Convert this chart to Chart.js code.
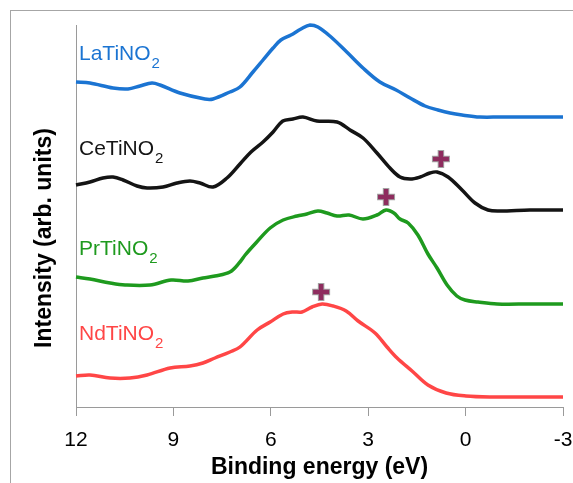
<!DOCTYPE html>
<html><head><meta charset="utf-8">
<script src="https://cdn.jsdelivr.net/npm/chart.js@4.4.0/dist/chart.umd.min.js"></script>
<style>html,body{margin:0;padding:0;background:#fff}canvas{display:block}</style>
</head><body>
<canvas id="c" width="573" height="483"></canvas>
<script>
// Binding energy (eV) and intensity (arb. units, including vertical offset)
const laE = [12.00, 11.57, 10.86, 10.40, 10.03, 9.66, 9.41, 8.80, 8.03, 7.78, 7.26, 6.95, 6.55, 6.24, 5.93, 5.69, 5.38, 5.07, 4.79, 4.55, 4.18, 3.66, 3.16, 2.64, 2.14, 1.71, 1.25, 0.85, 0.48, 0.11, -0.44, -1.06, -1.98, -3.00];
const laI = [325, 324, 319, 318, 321, 324, 322, 314, 308, 308, 315, 320, 335, 347, 359, 367, 372, 378, 382, 380, 371, 355, 339, 325, 317, 309, 301, 297, 294, 292, 290, 290, 290, 290];

const ceE = [12.00, 11.57, 11.17, 10.86, 10.55, 10.12, 9.81, 9.32, 8.89, 8.49, 8.18, 7.78, 7.35, 6.95, 6.61, 6.24, 5.93, 5.63, 5.32, 5.01, 4.58, 3.96, 3.56, 3.16, 2.73, 2.33, 2.02, 1.71, 1.40, 1.10, 0.88, 0.54, 0.11, -0.29, -0.69, -1.06, -1.98, -3.00];
const ceI = [222, 225, 229, 230, 227, 221, 219, 220, 224, 226, 224, 220, 229, 243, 255, 265, 275, 286, 288, 290, 286, 285, 277, 269, 254, 239, 230, 228, 230, 234, 235, 230, 217, 204, 197, 196, 197, 197];

const prE = [12.00, 11.57, 10.95, 10.49, 9.72, 9.07, 8.55, 8.09, 7.72, 7.26, 6.95, 6.79, 6.46, 6.02, 5.62, 5.19, 4.89, 4.55, 4.27, 3.96, 3.59, 3.16, 2.73, 2.45, 2.21, 2.02, 1.77, 1.47, 1.16, 0.88, 0.57, 0.27, 0.02, -0.38, -0.97, -1.98, -3.00];
const prI = [130, 128, 124, 122, 122, 127, 126, 129, 131, 135, 145, 152, 164, 179, 187, 191, 193, 196, 194, 191, 192, 188, 192, 197, 194, 188, 184, 172, 153, 139, 122, 111, 107, 105, 103, 103, 103];

const ndE = [12.00, 11.57, 10.95, 10.34, 9.81, 9.10, 8.49, 8.09, 7.72, 7.26, 6.95, 6.42, 6.02, 5.62, 5.32, 5.04, 4.73, 4.42, 4.08, 3.68, 3.31, 2.79, 2.42, 2.11, 1.65, 1.16, 0.60, -0.01, -0.75, -1.98, -3.00];
const ndI = [31, 32, 29, 29, 32, 39, 41, 44, 49, 55, 60, 77, 85, 93, 95, 95, 100, 103, 101, 96, 86, 74, 60, 49, 36, 22, 14, 11, 10, 10, 10];

// "+" markers above the marked features
const markE = [0.76, 2.45, 4.45];
const markI = [248, 210, 115];

// Series names (formula without the subscript digit), label anchor heights (intensity units)
const names = ['LaTiNO', 'CeTiNO', 'PrTiNO', 'NdTiNO'];
const nameSub = '2';
const nameLevels = [347, 252, 152, 67];
const xTicks = [12, 9, 6, 3, 0, -3];

const colors = ['#1b74d2', '#141414', '#1e9a1e', '#ff4646'];
const toXY = (xs, ys) => xs.map((x, i) => ({x: x, y: ys[i]}));

const FONT = "'Liberation Sans', Arial, sans-serif";

const labelPlugin = {
  id: 'labels',
  beforeDraw(chart) {
    const ctx = chart.ctx;
    ctx.save();
    ctx.strokeStyle = '#a6a6a6';
    ctx.lineWidth = 1;
    ctx.strokeRect(10.5, 10.5, 700, 700);
    ctx.restore();
  },
  afterDraw(chart) {
    const ctx = chart.ctx;
    const ys = chart.scales.y;
    const left = chart.chartArea.left;
    ctx.save();
    names.forEach((n, i) => {
      const base = ys.getPixelForValue(nameLevels[i]);
      ctx.fillStyle = colors[i];
      ctx.textAlign = 'left';
      ctx.textBaseline = 'alphabetic';
      ctx.font = '21px ' + FONT;
      ctx.fillText(n, left + 3, base);
      const w = ctx.measureText(n).width;
      ctx.font = '15px ' + FONT;
      ctx.fillText(nameSub, left + 3 + w + 1, base + 8);
    });
    // y-axis title
    ctx.translate(45, 238);
    ctx.rotate(-Math.PI / 2);
    ctx.fillStyle = '#000';
    ctx.font = 'bold 23px ' + FONT;
    ctx.textAlign = 'center';
    ctx.textBaseline = 'middle';
    ctx.fillText('Intensity (arb. units)', 0, 0);
    ctx.restore();
  }
};

const series = [[laE, laI], [ceE, ceI], [prE, prI], [ndE, ndI]];
const datasets = series.map((s, i) => ({
  data: toXY(s[0], s[1]),
  borderColor: colors[i],
  borderWidth: 3.5,
  pointRadius: 0,
  tension: 0.35,
  fill: false,
  clip: false,
  order: 3
}));
datasets.push({
  data: toXY(markE, markI),
  showLine: false,
  pointStyle: 'cross',
  pointRadius: 9,
  pointBorderWidth: 6.5,
  pointBorderColor: '#a3a3a3',
  pointHoverRadius: 9,
  clip: false,
  order: 2
});
datasets.push({
  data: toXY(markE, markI),
  showLine: false,
  pointStyle: 'cross',
  pointRadius: 8,
  pointBorderWidth: 4.5,
  pointBorderColor: '#8e2c5e',
  pointHoverRadius: 8,
  clip: false,
  order: 1
});

new Chart(document.getElementById('c'), {
  type: 'line',
  data: { datasets },
  options: {
    responsive: false,
    animation: false,
    events: [],
    layout: { autoPadding: false, padding: { left: 0, top: 25, right: 10, bottom: 0 } },
    plugins: { legend: { display: false }, tooltip: { enabled: false } },
    scales: {
      x: {
        type: 'linear',
        reverse: true,
        min: -3, max: 12,
        afterFit(s) { s.height = 76; s.paddingLeft = 0; s.paddingRight = 0; },
        afterBuildTicks(s) { s.ticks = xTicks.map(v => ({value: v})); },
        ticks: { color: '#000', font: { size: 21, family: FONT }, padding: 12, maxRotation: 0 },
        grid: { display: true, drawOnChartArea: false, drawTicks: true, tickLength: 9, color: '#9a9a9a' },
        border: { display: true, color: '#9a9a9a', width: 1 },
        title: { display: true, text: 'Binding energy (eV)', color: '#000', font: { size: 23, weight: 'bold', family: FONT }, padding: { top: 0, bottom: 2 } }
      },
      y: {
        type: 'linear',
        min: 0, max: 382,
        afterFit(s) { s.width = 76; s.paddingTop = 0; s.paddingBottom = 0; },
        ticks: { display: false },
        grid: { display: false },
        border: { display: true, color: '#9a9a9a', width: 1 }
      }
    }
  },
  plugins: [labelPlugin]
});
</script>
</body></html>
